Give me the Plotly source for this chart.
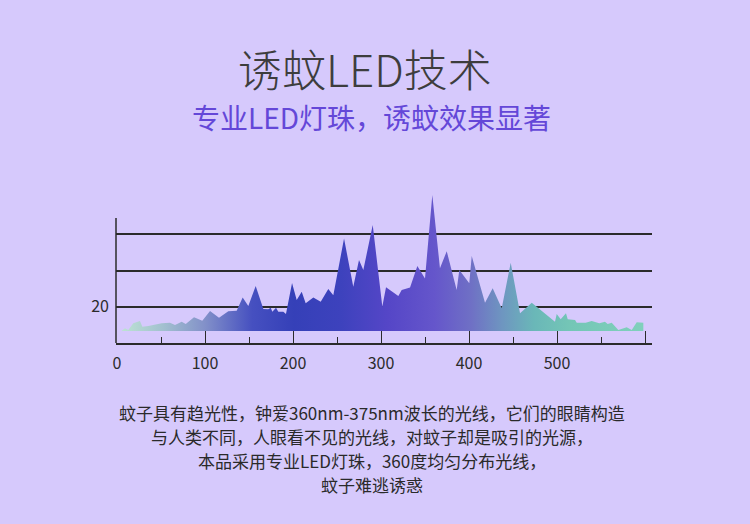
import plotly.graph_objects as go

# ---- data ----
wavelength = [5.3, 9.1, 12.8, 18.5, 26.1, 28.8, 35.6, 50.8, 60.2, 65.9, 73.5, 78.1,
              87.5, 96.9, 105.7, 115.9, 126.5, 136.0, 142.8, 149.2, 157.6, 166.3,
              171.9, 174.7, 176.5, 180.7, 183.3, 189.0, 192.0, 198.9, 204.2, 209.9,
              214.4, 223.1, 231.5, 240.1, 245.8, 258.0, 268.5, 275.0, 279.9, 290.6,
              301.5, 305.7, 319.7, 323.5, 333.0, 341.3, 350.0, 358.3, 367.0, 374.7,
              386.0, 389.0, 400.3, 403.1, 418.2, 426.9, 437.2, 447.4, 458.0, 471.3,
              497.7, 499.7, 504.2, 510.2, 512.2, 520.5, 522.4, 532.6, 539.4, 548.1,
              554.5, 557.6, 562.2, 569.7, 579.2, 584.9, 590.6, 598.1, 598.1]
intensity = [6.8, 8.1, 7.2, 10.9, 12.2, 9.0, 9.4, 10.9, 11.2, 9.9, 11.8, 10.5,
             14.2, 12.3, 17.7, 14.0, 17.5, 17.8, 25.2, 20.4, 31.5, 18.8,
             18.6, 19.5, 17.3, 19.5, 17.3, 17.3, 16.0, 33.1, 23.8, 28.3,
             21.9, 25.2, 22.8, 29.8, 26.4, 57.7, 31.1, 45.9, 40.3, 65.2,
             20.1, 30.8, 26.0, 29.3, 30.6, 42.5, 35.7, 81.8, 41.3, 50.7,
             29.3, 40.3, 33.0, 48.1, 22.3, 30.2, 19.2, 44.4, 16.4, 22.3,
             11.8, 16.0, 13.1, 16.4, 13.1, 12.7, 11.2, 11.2, 12.2, 10.9,
             11.8, 10.5, 11.2, 7.2, 8.7, 7.2, 11.4, 11.2, 6.8]
baseline_value = 6.6
x_tick_values = [0, 100, 200, 300, 400, 500, 600]
x_tick_labels = ["0", "100", "200", "300", "400", "500", ""]
x_minor_ticks = [50, 150, 250, 350, 450, 550]
y_grid_values = [20, 40, 60]
y_tick_labels = ["20", "", ""]
y_axis_top = 69.1

title_text = "诱蚊LED技术"
subtitle_text = "专业LED灯珠，诱蚊效果显著"
body_lines = [
    "蚊子具有趋光性，钟爱360nm-375nm波长的光线，它们的眼睛构造",
    "与人类不同，人眼看不见的光线，对蚊子却是吸引的光源，",
    "本品采用专业LED灯珠，360度均匀分布光线，",
    "蚊子难逃诱惑",
]

BG = "#d6c9fc"
INK = "#2b2b2b"
CJK = "Noto Sans CJK SC"

# ---- figure ----
W, H = 750, 524
ML, MR, MT, MB = 116, 98, 189, 181
PW, PH = W - ML - MR, H - MT - MB


def px_x(p):
    return (p - ML) / PW


def px_y(p):
    return (H - MB - p) / PH


fig = go.Figure()
fig.add_trace(go.Scatter(
    x=[wavelength[0], wavelength[-1]], y=[baseline_value, baseline_value],
    mode="lines", line=dict(width=0), hoverinfo="skip", showlegend=False))
fig.add_trace(go.Scatter(
    x=wavelength, y=intensity, mode="lines", line=dict(width=0),
    fill="tonexty",
    fillgradient=dict(
        type="horizontal",
        colorscale=[
            [0.00, "#bde3d3"],
            [0.08, "#a2c0cf"],
            [0.16, "#8290c9"],
            [0.25, "#4650c0"],
            [0.33, "#3540b8"],
            [0.42, "#3d42bd"],
            [0.51, "#5546c7"],
            [0.60, "#6556cb"],
            [0.67, "#6f70c5"],
            [0.73, "#6e96c0"],
            [0.79, "#6ab7b8"],
            [0.86, "#74c6b6"],
            [1.00, "#80d0bc"],
        ]),
    hoverinfo="skip", showlegend=False))

fig.update_layout(
    width=W, height=H,
    margin=dict(l=ML, r=MR, t=MT, b=MB, pad=0),
    paper_bgcolor=BG, plot_bgcolor=BG,
    font=dict(family=CJK, color=INK),
    xaxis=dict(
        range=[-1.14, 607.95], showgrid=False, zeroline=False,
        showline=True, linecolor=INK, linewidth=1.5,
        tickmode="array", tickvals=x_tick_values, ticktext=x_tick_labels,
        ticks="inside", ticklen=12, tickwidth=1.3, tickcolor=INK,
        ticklabelstandoff=5,
        tickfont=dict(family=CJK, size=16, color=INK),
        minor=dict(tickmode="array", tickvals=x_minor_ticks, ticks="inside",
                   ticklen=6, tickwidth=1.3, tickcolor=INK),
    ),
    yaxis=dict(
        range=[0, PH / 1.81], showgrid=True, gridcolor=INK, gridwidth=1.5,
        zeroline=False, showline=False, ticks="",
        ticklabelstandoff=6,
        tickmode="array", tickvals=y_grid_values, ticktext=y_tick_labels,
        tickfont=dict(family=CJK, size=16, color=INK),
    ),
    shapes=[dict(type="line", xref="paper", yref="y", x0=0, x1=0,
                 y0=0, y1=y_axis_top, line=dict(color=INK, width=1.5))],
)

annotations = [
    dict(text=title_text, x=px_x(365), y=px_y(68),
         font=dict(family=CJK, size=44, weight=300, color="#3d3d3d")),
    dict(text=subtitle_text, x=px_x(371), y=px_y(117),
         font=dict(family=CJK, size=28, color="#6447d8")),
]
for i, line in enumerate(body_lines):
    annotations.append(dict(text=line, x=px_x(372), y=px_y(412 + i * 24.2),
                            font=dict(family=CJK, size=17, color="#2a2a2a")))
for a in annotations:
    a.update(xref="paper", yref="paper", xanchor="center", yanchor="middle", showarrow=False)
fig.update_layout(annotations=annotations)

fig.write_html(
    "out.html",
    config={"displayModeBar": False},
    post_script="document.body.style.margin='0';document.body.style.background='%s';" % BG,
)
